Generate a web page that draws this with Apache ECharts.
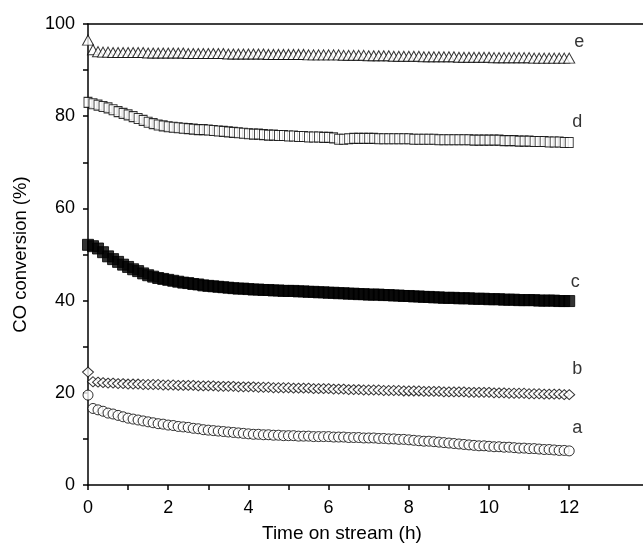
<!DOCTYPE html>
<html>
<head>
<meta charset="utf-8">
<script src="https://cdn.jsdelivr.net/npm/echarts@6/dist/echarts.min.js"></script>
<style>html,body{margin:0;padding:0;background:#fff}#c{width:643px;height:547px}</style>
</head>
<body>
<div id="c"></div>
<script>
// Time on stream (h)
var timeH = [
  0, 0.125, 0.25, 0.375, 0.5, 0.625, 0.75, 0.875,
  1, 1.125, 1.25, 1.375, 1.5, 1.625, 1.75, 1.875,
  2, 2.125, 2.25, 2.375, 2.5, 2.625, 2.75, 2.875,
  3, 3.125, 3.25, 3.375, 3.5, 3.625, 3.75, 3.875,
  4, 4.125, 4.25, 4.375, 4.5, 4.625, 4.75, 4.875,
  5, 5.125, 5.25, 5.375, 5.5, 5.625, 5.75, 5.875,
  6, 6.125, 6.25, 6.375, 6.5, 6.625, 6.75, 6.875,
  7, 7.125, 7.25, 7.375, 7.5, 7.625, 7.75, 7.875,
  8, 8.125, 8.25, 8.375, 8.5, 8.625, 8.75, 8.875,
  9, 9.125, 9.25, 9.375, 9.5, 9.625, 9.75, 9.875,
  10, 10.125, 10.25, 10.375, 10.5, 10.625, 10.75, 10.875,
  11, 11.125, 11.25, 11.375, 11.5, 11.625, 11.75, 11.875,
  12
];
// CO conversion (%)
var seriesA = [
  19.5, 16.6, 16.3, 16.0, 15.6, 15.4, 15.1, 14.8,
  14.5, 14.3, 14.1, 13.9, 13.7, 13.5, 13.3, 13.2,
  13.0, 12.9, 12.7, 12.6, 12.5, 12.3, 12.2, 12.0,
  11.9, 11.8, 11.7, 11.6, 11.5, 11.4, 11.3, 11.2,
  11.1, 11.0, 11.0, 10.9, 10.9, 10.8, 10.8, 10.7,
  10.7, 10.7, 10.6, 10.6, 10.6, 10.5, 10.5, 10.5,
  10.5, 10.4, 10.4, 10.4, 10.3, 10.3, 10.3, 10.2,
  10.2, 10.2, 10.1, 10.1, 10.0, 10.0, 9.9, 9.9,
  9.8, 9.7, 9.6, 9.5, 9.5, 9.4, 9.3, 9.2,
  9.1, 9.0, 8.9, 8.8, 8.7, 8.6, 8.5, 8.5,
  8.4, 8.3, 8.3, 8.2, 8.2, 8.1, 8.0, 8.0,
  7.9, 7.9, 7.8, 7.7, 7.7, 7.6, 7.5, 7.5,
  7.4
];
var seriesB = [
  24.5, 22.4, 22.3, 22.2, 22.1, 22.1, 22.0, 22.0,
  21.9, 21.9, 21.9, 21.8, 21.8, 21.8, 21.8, 21.7,
  21.7, 21.7, 21.6, 21.6, 21.6, 21.6, 21.5, 21.5,
  21.5, 21.5, 21.4, 21.4, 21.4, 21.4, 21.3, 21.3,
  21.3, 21.3, 21.2, 21.2, 21.2, 21.1, 21.1, 21.1,
  21.1, 21.0, 21.0, 21.0, 21.0, 20.9, 20.9, 20.9,
  20.9, 20.8, 20.8, 20.8, 20.7, 20.7, 20.7, 20.6,
  20.6, 20.6, 20.6, 20.5, 20.5, 20.5, 20.5, 20.4,
  20.4, 20.4, 20.4, 20.3, 20.3, 20.3, 20.3, 20.2,
  20.2, 20.2, 20.2, 20.2, 20.1, 20.1, 20.1, 20.1,
  20.1, 20.0, 20.0, 20.0, 19.9, 19.9, 19.9, 19.9,
  19.8, 19.8, 19.8, 19.7, 19.7, 19.7, 19.7, 19.6,
  19.6
];
var seriesC = [
  52.1, 51.8, 51.3, 50.5, 49.6, 49.0, 48.4, 47.8,
  47.3, 46.8, 46.4, 45.9, 45.5, 45.2, 44.9, 44.7,
  44.5, 44.3, 44.1, 43.9, 43.8, 43.6, 43.5, 43.3,
  43.2, 43.1, 43.0, 42.9, 42.8, 42.7, 42.6, 42.6,
  42.5, 42.4, 42.4, 42.3, 42.3, 42.2, 42.2, 42.1,
  42.1, 42.1, 42.0, 42.0, 41.9, 41.9, 41.8, 41.8,
  41.7, 41.7, 41.6, 41.6, 41.5, 41.5, 41.4, 41.4,
  41.3, 41.3, 41.3, 41.2, 41.2, 41.1, 41.1, 41.0,
  41.0, 40.9, 40.9, 40.8, 40.8, 40.7, 40.7, 40.6,
  40.6, 40.6, 40.5, 40.5, 40.5, 40.4, 40.4, 40.4,
  40.3, 40.3, 40.3, 40.2, 40.2, 40.2, 40.1, 40.1,
  40.1, 40.1, 40.0, 40.0, 40.0, 40.0, 39.9, 39.9,
  39.9
];
var seriesD = [
  83.0, 82.7, 82.4, 82.1, 81.8, 81.4, 81.0, 80.6,
  80.3, 79.9, 79.5, 79.1, 78.7, 78.4, 78.1, 77.9,
  77.7, 77.6, 77.5, 77.4, 77.3, 77.2, 77.1, 77.1,
  77.0, 76.9, 76.8, 76.7, 76.6, 76.5, 76.4, 76.3,
  76.2, 76.1, 76.1, 76.0, 75.9, 75.9, 75.8, 75.8,
  75.7, 75.7, 75.6, 75.6, 75.5, 75.5, 75.5, 75.4,
  75.4, 75.3, 75.0, 75.0, 75.1, 75.2, 75.2, 75.2,
  75.2, 75.2, 75.1, 75.1, 75.1, 75.1, 75.1, 75.1,
  75.1, 75.0, 75.0, 75.0, 75.0, 75.0, 74.9, 74.9,
  74.9, 74.9, 74.9, 74.9, 74.9, 74.8, 74.8, 74.8,
  74.8, 74.8, 74.8, 74.7, 74.7, 74.7, 74.6, 74.6,
  74.6, 74.5, 74.5, 74.5, 74.4, 74.4, 74.4, 74.3,
  74.3
];
var seriesE = [
  96.5, 94.4, 94.0, 93.9, 93.9, 93.8, 93.8, 93.8,
  93.8, 93.8, 93.8, 93.8, 93.7, 93.7, 93.7, 93.7,
  93.7, 93.7, 93.7, 93.7, 93.6, 93.6, 93.6, 93.6,
  93.6, 93.6, 93.6, 93.6, 93.5, 93.5, 93.5, 93.5,
  93.5, 93.5, 93.5, 93.5, 93.4, 93.4, 93.4, 93.4,
  93.4, 93.4, 93.4, 93.4, 93.3, 93.3, 93.3, 93.3,
  93.3, 93.3, 93.3, 93.2, 93.2, 93.2, 93.2, 93.2,
  93.1, 93.1, 93.1, 93.1, 93.1, 93.0, 93.0, 93.0,
  93.0, 93.0, 93.0, 92.9, 92.9, 92.9, 92.9, 92.9,
  92.9, 92.9, 92.8, 92.8, 92.8, 92.8, 92.8, 92.8,
  92.8, 92.7, 92.7, 92.7, 92.7, 92.7, 92.7, 92.7,
  92.7, 92.6, 92.6, 92.6, 92.6, 92.6, 92.6, 92.6,
  92.6
];
// Curve labels
var curveNames = ['a', 'b', 'c', 'd', 'e'];
var labelX = [12.2, 12.2, 12.15, 12.2, 12.25];
var labelY = [12.4, 25.2, 44.0, 78.7, 96.1];
// Axis tick labels
var xTickLabels = [0, 2, 4, 6, 8, 10, 12];
var xTicks = [0, 1, 2, 3, 4, 5, 6, 7, 8, 9, 10, 11, 12];
var yTickLabels = [0, 20, 40, 60, 80, 100];

var FONT = 'Liberation Sans, Arial, sans-serif';

function pairs(v) {
  return v.map(function (y, i) { return [timeH[i], y]; });
}

var chart = echarts.init(document.getElementById('c'), null, { renderer: 'canvas' });

var hollow = { color: '#ffffff', borderColor: '#000000', borderWidth: 1 };

var option = {
  backgroundColor: '#ffffff',
  animation: false,
  grid: { left: 88, top: 24, right: 0, bottom: 62, containLabel: false },
  xAxis: [{
    type: 'value',
    min: 0,
    max: 13.84,
    interval: 1,
    axisLine: { show: true, lineStyle: { color: '#000', width: 1.5 } },
    axisTick: { show: true, length: 5, inside: false, lineStyle: { color: '#000', width: 1.5 }, customValues: xTicks },
    axisLabel: { show: true, color: '#000', fontFamily: FONT, fontSize: 18, margin: 14, customValues: xTickLabels },
    splitLine: { show: false }
  }, {
    type: 'value',
    position: 'top',
    min: 0,
    max: 13.84,
    axisLine: { show: true, onZero: false, lineStyle: { color: '#000', width: 1.5 } },
    axisTick: { show: false },
    axisLabel: { show: false },
    splitLine: { show: false }
  }],
  yAxis: {
    type: 'value',
    min: 0,
    max: 100,
    interval: 10,
    name: 'CO conversion (%)',
    nameLocation: 'middle',
    nameGap: 58,
    nameTextStyle: { color: '#000', fontFamily: FONT, fontSize: 18.5 },
    axisLine: { show: true, lineStyle: { color: '#000', width: 1.5 } },
    axisTick: { show: true, length: 5, inside: false, lineStyle: { color: '#000', width: 1.5 } },
    axisLabel: { show: true, color: '#000', fontFamily: FONT, fontSize: 18, margin: 13, customValues: yTickLabels },
    splitLine: { show: false }
  },
  graphic: [{
    type: 'text',
    left: 262,
    top: 524,
    style: { text: 'Time on stream (h)', fill: '#000', font: '19px ' + FONT }
  }],
  series: [
    { name: 'a', type: 'scatter', data: pairs(seriesA), symbol: 'circle', symbolSize: 10, itemStyle: hollow, z: 2 },
    { name: 'b', type: 'scatter', data: pairs(seriesB), symbol: 'diamond', symbolSize: [11, 10], itemStyle: hollow, z: 2 },
    { name: 'c', type: 'scatter', data: pairs(seriesC), symbol: 'rect', symbolSize: 11, itemStyle: { color: '#000', borderColor: '#000', borderWidth: 1 }, z: 2 },
    { name: 'd', type: 'scatter', data: pairs(seriesD), symbol: 'rect', symbolSize: [8, 10], itemStyle: hollow, z: 2 },
    { name: 'e', type: 'scatter', data: pairs(seriesE), symbol: 'triangle', symbolSize: [11, 10], itemStyle: hollow, z: 2 },
    {
      name: 'labels', type: 'scatter', symbolSize: 0, silent: true, z: 3,
      data: curveNames.map(function (n, i) { return { value: [labelX[i], labelY[i]], name: n }; }),
      label: { show: true, position: 'inside', formatter: '{b}', color: '#000', fontFamily: FONT, fontSize: 18 }
    }
  ]
};
chart.setOption(option);
</script>
</body>
</html>
